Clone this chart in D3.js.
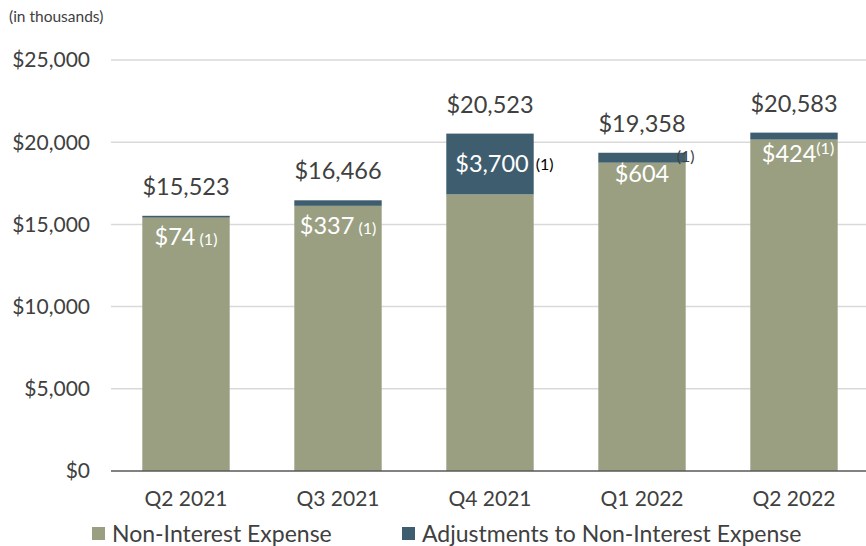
<!DOCTYPE html>
<html>
<head>
<meta charset="utf-8">
<script src="https://cdn.jsdelivr.net/npm/d3@7"></script>
<style>
  body { margin: 0; background: #fff; }
  text { font-family: Lato, "Open Sans", sans-serif; }
</style>
</head>
<body>
<script>
// quarters and values (in thousands)
const quarters = ["Q2 2021", "Q3 2021", "Q4 2021", "Q1 2022", "Q2 2022"];
const nonInterest = [15449, 16129, 16823, 18754, 20159];
const adjustments = [74, 337, 3700, 604, 424];
const totals = [15523, 16466, 20523, 19358, 20583];
const yTicks = [0, 5000, 10000, 15000, 20000, 25000];
const seriesNames = ["Non-Interest Expense", "Adjustments to Non-Interest Expense"];
const colors = ["#9a9f82", "#3e5e6f"];

const width = 866, height = 546;

var svg = d3.select("body").append("svg")
    .attr("width", width)
    .attr("height", height);

let x = d3.scaleBand()
    .domain(quarters)
    .range([110, 870])
    .paddingInner(0.425)
    .paddingOuter(0.2125);

let y = d3.scaleLinear()
    .domain([0, 25000])
    .range([471, 60]);

// gridlines
svg.append("g")
    .selectAll("line")
    .data(yTicks.slice(1))
    .join("line")
        .attr("x1", 111).attr("x2", width)
        .attr("y1", d => y(d)).attr("y2", d => y(d))
        .attr("stroke", "#d9d9d9")
        .attr("stroke-width", 1.5);

// y labels
svg.append("g")
    .selectAll("text")
    .data(yTicks)
    .join("text")
        .attr("x", 90)
        .attr("y", d => y(d))
        .attr("dy", "0.35em")
        .attr("text-anchor", "end")
        .attr("font-size", 21)
        .attr("fill", "#404040")
        .text(d => "$" + d3.format(",")(d));

svg.append("text")
    .attr("x", 9).attr("y", 22)
    .attr("font-size", 15.5)
    .attr("fill", "#404040")
    .text("(in thousands)");

let rows = quarters.map((q, i) => ({q: q, a: nonInterest[i], b: adjustments[i], t: totals[i], i: i}));

// stacked bars
svg.append("g")
    .selectAll("rect")
    .data(rows)
    .join("rect")
        .attr("x", d => x(d.q))
        .attr("width", x.bandwidth())
        .attr("y", d => y(d.a))
        .attr("height", d => y(0) - y(d.a))
        .attr("fill", colors[0]);

svg.append("g")
    .selectAll("rect")
    .data(rows)
    .join("rect")
        .attr("x", d => x(d.q))
        .attr("width", x.bandwidth())
        .attr("y", d => y(d.a + d.b))
        .attr("height", d => Math.max(1.5, y(d.a) - y(d.a + d.b)))
        .attr("fill", colors[1]);

// baseline
svg.append("line")
    .attr("x1", 111).attr("x2", width)
    .attr("y1", y(0)).attr("y2", y(0))
    .attr("stroke", "#595959")
    .attr("stroke-width", 1.5);

// totals
svg.append("g")
    .selectAll("text")
    .data(rows)
    .join("text")
        .attr("x", d => x(d.q) + x.bandwidth() / 2)
        .attr("y", d => y(d.t) - 21)
        .attr("text-anchor", "middle")
        .attr("font-size", 23.5)
        .attr("fill", "#404040")
        .text(d => "$" + d3.format(",")(d.t));

// adjustment labels, each placed a little differently like the original slide
const fmt = d => "$" + d3.format(",")(d);
rows.forEach(d => {
    let cx = x(d.q) + x.bandwidth() / 2;
    if (d.i === 2) {
        // inside the big dark segment, footnote outside the bar
        let cy = (y(d.a) + y(d.t)) / 2;
        svg.append("text")
            .attr("x", cx + 2).attr("y", cy).attr("dy", "0.35em")
            .attr("text-anchor", "middle")
            .attr("font-size", 23.5).attr("fill", "#fff")
            .text(fmt(d.b));
        svg.append("text")
            .attr("x", x(d.q) + x.bandwidth() + 2).attr("y", cy).attr("dy", "0.35em")
            .attr("font-size", 16).attr("fill", "#000")
            .text("(1)");
    } else if (d.i === 3) {
        svg.append("text")
            .attr("x", cx).attr("y", y(d.t) + 29)
            .attr("text-anchor", "middle")
            .attr("font-size", 23.5).attr("fill", "#fff")
            .text(fmt(d.b));
        svg.append("text")
            .attr("x", x(d.q) + x.bandwidth() - 9).attr("y", y(d.t) + 9)
            .attr("font-size", 16).attr("fill", "#404040")
            .text("(1)");
    } else {
        let t = svg.append("text")
            .attr("x", cx + (d.i === 4 ? 4 : 0))
            .attr("y", y(d.t) + (d.i === 1 ? 34 : 29))
            .attr("text-anchor", "middle")
            .attr("font-size", 23.5).attr("fill", "#fff");
        t.append("tspan").text(fmt(d.b));
        if (d.i === 4) {
            t.append("tspan").attr("font-size", 16).attr("dy", -8).text("(1)");
        } else {
            t.append("tspan").attr("font-size", 16).text(" (1)");
        }
    }
});

// category labels
svg.append("g")
    .selectAll("text")
    .data(quarters)
    .join("text")
        .attr("x", d => x(d) + x.bandwidth() / 2)
        .attr("y", 499)
        .attr("dy", "0.35em")
        .attr("text-anchor", "middle")
        .attr("font-size", 21)
        .attr("fill", "#404040")
        .text(d => d);

// legend
let legendX = [92, 402];
let lg = svg.append("g")
    .selectAll("g")
    .data(seriesNames)
    .join("g")
        .attr("transform", (d, i) => "translate(" + legendX[i] + ",534)");
lg.append("rect")
    .attr("x", 0).attr("y", -7)
    .attr("width", 13).attr("height", 13)
    .attr("fill", (d, i) => colors[i]);
lg.append("text")
    .attr("x", 20).attr("y", 0)
    .attr("dy", "0.35em")
    .attr("font-size", 23)
    .attr("fill", "#404040")
    .text(d => d);
</script>
</body>
</html>
